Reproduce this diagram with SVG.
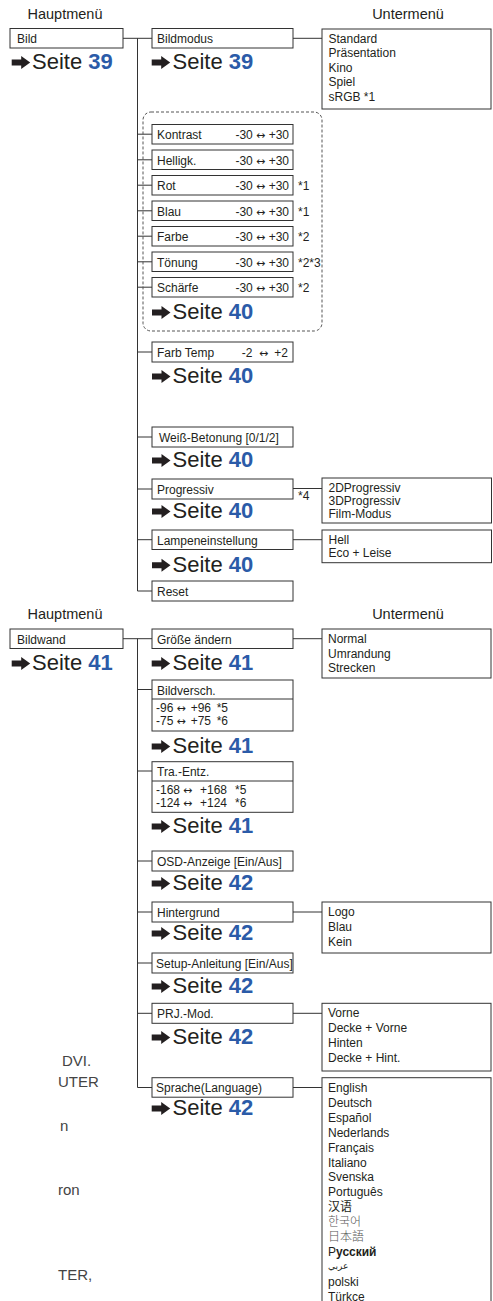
<svg xmlns="http://www.w3.org/2000/svg" width="493" height="1301" viewBox="0 0 493 1301">
<style>
text{font-family:"Liberation Sans",Arial,sans-serif;fill:#231f20}
.t{font-size:12px}
.h{font-size:14.5px}
.s{font-size:22px}
.n{font-weight:bold;fill:#2b5ba8}
.b{fill:#fff;stroke:#333;stroke-width:1}
.c{fill:none;stroke:#333;stroke-width:1}
.d{fill:none;stroke:#555;stroke-width:1;stroke-dasharray:3 2}
.f{font-size:15px;fill:#444;font-family:"Liberation Sans Narrow","Liberation Sans",sans-serif}
.cjk{font-family:"Noto Sans CJK SC","Noto Sans CJK KR","Noto Sans CJK JP",sans-serif}
.a{font-family:"DejaVu Sans",sans-serif;font-size:11px}
</style>
<defs>
<path id="arr" d="M0,-3 H9.5 V-6.5 L18.5,0 L9.5,6.5 V3 H0 Z" fill="#231f20"/>
</defs>

<g id="headers">
<text class="h" x="65" y="19" text-anchor="middle">Hauptmenü</text>
<text class="h" x="408" y="19" text-anchor="middle">Untermenü</text>
<text class="h" x="65" y="619" text-anchor="middle">Hauptmenü</text>
<text class="h" x="408" y="619" text-anchor="middle">Untermenü</text>
</g>

<g id="connectors">
<path class="c" d="M123,38.3 H152 M137.5,38.3 V591 H152 M293,38.3 H322"/>
<path class="c" d="M137.5,134.2 H152 M137.5,159.8 H152 M137.5,185.2 H152 M137.5,210.8 H152 M137.5,236.2 H152 M137.5,261.8 H152 M137.5,287.2 H152"/>
<path class="c" d="M137.5,352 H152 M137.5,437 H152 M137.5,489 H152 M293,488.5 H322 M137.5,539.7 H152 M293,539.7 H322"/>
<path class="c" d="M123,638.7 H152 M137.5,638.7 V1087.5 H152 M293,638.7 H322"/>
<path class="c" d="M137.5,689.5 H152 M137.5,771 H152 M137.5,861 H152 M137.5,912 H152 M293,912 H322 M137.5,963 H152 M137.5,1013.3 H152 M293,1013.3 H322 M293,1087.5 H322"/>
</g>

<g id="bild">
<rect class="b" x="10" y="28.5" width="113" height="19.5"/>
<text class="t" x="17" y="43">Bild</text>
<use href="#arr" x="11.7" y="62.5"/>
<text class="s" x="32" y="69">Seite <tspan class="n">39</tspan></text>
</g>

<g id="bildmodus">
<rect class="b" x="152" y="28.5" width="141" height="19.5"/>
<text class="t" x="157" y="43">Bildmodus</text>
<use href="#arr" x="151.7" y="62.5"/>
<text class="s" x="172.5" y="69">Seite <tspan class="n">39</tspan></text>
</g>

<g id="bildmodus-sub">
<rect class="b" x="322" y="29" width="169" height="80"/>
<text class="t" x="328.5" y="42.7">Standard</text>
<text class="t" x="328.5" y="57.2">Präsentation</text>
<text class="t" x="328.5" y="71.7">Kino</text>
<text class="t" x="328.5" y="86.2">Spiel</text>
<text class="t" x="328.5" y="100.7">sRGB *1</text>
</g>

<g id="bildeinstellungen">
<rect class="d" x="143" y="112" width="179" height="219" rx="8"/>
<use href="#arr" x="152" y="312.5"/>
<text class="s" x="172.5" y="319">Seite <tspan class="n">40</tspan></text>
</g>

<g id="kontrast">
<rect class="b" x="152" y="124.5" width="141" height="19.5"/>
<text class="t" x="157" y="139">Kontrast</text>
<text class="t" x="289" y="139" text-anchor="end">-30 <tspan class="a">↔</tspan> +30</text>
</g>
<g id="helligk">
<rect class="b" x="152" y="150" width="141" height="19.5"/>
<text class="t" x="157" y="164.5">Helligk.</text>
<text class="t" x="289" y="164.5" text-anchor="end">-30 <tspan class="a">↔</tspan> +30</text>
</g>
<g id="rot">
<rect class="b" x="152" y="175.5" width="141" height="19.5"/>
<text class="t" x="157" y="190">Rot</text>
<text class="t" x="289" y="190" text-anchor="end">-30 <tspan class="a">↔</tspan> +30</text>
<text class="t" x="298" y="190">*1</text>
</g>
<g id="blau">
<rect class="b" x="152" y="201" width="141" height="19.5"/>
<text class="t" x="157" y="215.5">Blau</text>
<text class="t" x="289" y="215.5" text-anchor="end">-30 <tspan class="a">↔</tspan> +30</text>
<text class="t" x="298" y="215.5">*1</text>
</g>
<g id="farbe">
<rect class="b" x="152" y="226.5" width="141" height="19.5"/>
<text class="t" x="157" y="241">Farbe</text>
<text class="t" x="289" y="241" text-anchor="end">-30 <tspan class="a">↔</tspan> +30</text>
<text class="t" x="298" y="241">*2</text>
</g>
<g id="toenung">
<rect class="b" x="152" y="252" width="141" height="19.5"/>
<text class="t" x="157" y="266.5">Tönung</text>
<text class="t" x="289" y="266.5" text-anchor="end">-30 <tspan class="a">↔</tspan> +30</text>
<text class="t" x="298" y="266.5">*2*3</text>
</g>
<g id="schaerfe">
<rect class="b" x="152" y="277.5" width="141" height="19.5"/>
<text class="t" x="157" y="292">Schärfe</text>
<text class="t" x="289" y="292" text-anchor="end">-30 <tspan class="a">↔</tspan> +30</text>
<text class="t" x="298" y="292">*2</text>
</g>

<g id="farbtemp">
<rect class="b" x="152" y="342" width="141" height="20"/>
<text class="t" x="157" y="356.5">Farb Temp</text>
<text class="t" y="356.5"><tspan x="241.7">-2</tspan><tspan class="a" x="259">↔</tspan><tspan x="274.3">+2</tspan></text>
<use href="#arr" x="152" y="376.5"/>
<text class="s" x="172.5" y="383">Seite <tspan class="n">40</tspan></text>
</g>

<g id="weiss">
<rect class="b" x="152" y="427" width="141" height="20"/>
<text class="t" x="159" y="441.5">Weiß-Betonung [0/1/2]</text>
<use href="#arr" x="152" y="460.5"/>
<text class="s" x="172.5" y="467">Seite <tspan class="n">40</tspan></text>
</g>

<g id="progressiv">
<rect class="b" x="152" y="479" width="141" height="20"/>
<text class="t" x="157" y="493.5">Progressiv</text>
<text class="t" x="298" y="500">*4</text>
<use href="#arr" x="152" y="511.5"/>
<text class="s" x="172.5" y="518">Seite <tspan class="n">40</tspan></text>
</g>
<g id="progressiv-sub">
<rect class="b" x="322" y="478" width="169.5" height="45"/>
<text class="t" x="328.5" y="491.7">2DProgressiv</text>
<text class="t" x="328.5" y="505">3DProgressiv</text>
<text class="t" x="328.5" y="518.3">Film-Modus</text>
</g>

<g id="lampe">
<rect class="b" x="152" y="530" width="141" height="19.5"/>
<text class="t" x="157" y="544.5">Lampeneinstellung</text>
<use href="#arr" x="152" y="565.2"/>
<text class="s" x="172.5" y="571.7">Seite <tspan class="n">40</tspan></text>
</g>
<g id="lampe-sub">
<rect class="b" x="322" y="530" width="169.5" height="32.7"/>
<text class="t" x="328.5" y="544">Hell</text>
<text class="t" x="328.5" y="556.7">Eco + Leise</text>
</g>

<g id="reset">
<rect class="b" x="152" y="581" width="141" height="20"/>
<text class="t" x="157" y="595.5">Reset</text>
</g>

<g id="bildwand">
<rect class="b" x="10" y="629" width="113" height="19.5"/>
<text class="t" x="17" y="643.5">Bildwand</text>
<use href="#arr" x="11.7" y="663.5"/>
<text class="s" x="32" y="670">Seite <tspan class="n">41</tspan></text>
</g>

<g id="groesse">
<rect class="b" x="152" y="629" width="141" height="19.5"/>
<text class="t" x="157" y="643.5">Größe ändern</text>
<use href="#arr" x="151.7" y="663.5"/>
<text class="s" x="172.5" y="670">Seite <tspan class="n">41</tspan></text>
</g>
<g id="groesse-sub">
<rect class="b" x="322" y="629" width="169" height="49"/>
<text class="t" x="328" y="643">Normal</text>
<text class="t" x="328" y="657.5">Umrandung</text>
<text class="t" x="328" y="672">Strecken</text>
</g>

<g id="bildversch">
<rect class="b" x="152" y="680" width="141" height="51"/>
<path class="c" d="M152,699 H293"/>
<text class="t" x="157" y="694.5">Bildversch.</text>
<text class="t" y="711.7"><tspan x="156">-96</tspan><tspan class="a" x="176.5">↔</tspan><tspan x="190.7">+96</tspan><tspan x="216.7">*5</tspan></text>
<text class="t" y="725"><tspan x="156">-75</tspan><tspan class="a" x="176.5">↔</tspan><tspan x="190.7">+75</tspan><tspan x="216.7">*6</tspan></text>
<use href="#arr" x="151.7" y="746.5"/>
<text class="s" x="172.5" y="753">Seite <tspan class="n">41</tspan></text>
</g>

<g id="traentz">
<rect class="b" x="152" y="761.7" width="141" height="50.6"/>
<path class="c" d="M152,781 H293"/>
<text class="t" x="157" y="776">Tra.-Entz.</text>
<text class="t" y="794.3"><tspan x="156">-168</tspan><tspan class="a" x="183">↔</tspan><tspan x="200">+168</tspan><tspan x="235">*5</tspan></text>
<text class="t" y="807.3"><tspan x="156">-124</tspan><tspan class="a" x="183">↔</tspan><tspan x="200">+124</tspan><tspan x="235">*6</tspan></text>
<use href="#arr" x="151.7" y="826.5"/>
<text class="s" x="172.5" y="833">Seite <tspan class="n">41</tspan></text>
</g>

<g id="osd">
<rect class="b" x="152" y="851" width="141" height="20"/>
<text class="t" x="157" y="865.5">OSD-Anzeige [Ein/Aus]</text>
<use href="#arr" x="151.7" y="883.5"/>
<text class="s" x="172.5" y="890">Seite <tspan class="n">42</tspan></text>
</g>

<g id="hintergrund">
<rect class="b" x="152" y="902" width="141" height="20"/>
<text class="t" x="157" y="916.5">Hintergrund</text>
<use href="#arr" x="151.7" y="933.5"/>
<text class="s" x="172.5" y="940">Seite <tspan class="n">42</tspan></text>
</g>
<g id="hintergrund-sub">
<rect class="b" x="322" y="902" width="169" height="51"/>
<text class="t" x="328" y="915.7">Logo</text>
<text class="t" x="328" y="930.7">Blau</text>
<text class="t" x="328" y="945.5">Kein</text>
</g>

<g id="setup">
<rect class="b" x="152" y="953" width="141" height="20"/>
<text class="t" x="156" y="967.5">Setup-Anleitung [Ein/Aus]</text>
<use href="#arr" x="151.7" y="986.5"/>
<text class="s" x="172.5" y="993">Seite <tspan class="n">42</tspan></text>
</g>

<g id="prjmod">
<rect class="b" x="152" y="1003.3" width="141" height="20"/>
<text class="t" x="157" y="1017.8">PRJ.-Mod.</text>
<use href="#arr" x="151.7" y="1037.5"/>
<text class="s" x="172.5" y="1044">Seite <tspan class="n">42</tspan></text>
</g>
<g id="prjmod-sub">
<rect class="b" x="322" y="1003.3" width="169" height="67.7"/>
<text class="t" x="328" y="1017">Vorne</text>
<text class="t" x="328" y="1032">Decke + Vorne</text>
<text class="t" x="328" y="1047">Hinten</text>
<text class="t" x="328" y="1062">Decke + Hint.</text>
</g>

<g id="sprache">
<rect class="b" x="152" y="1077.7" width="141" height="19.5"/>
<text class="t" x="156" y="1092">Sprache(Language)</text>
<use href="#arr" x="151.7" y="1108.5"/>
<text class="s" x="172.5" y="1115">Seite <tspan class="n">42</tspan></text>
</g>
<g id="sprache-sub">
<rect class="b" x="322" y="1077.7" width="169" height="240"/>
<text class="t" x="328" y="1092">English</text>
<text class="t" x="328" y="1106.9">Deutsch</text>
<text class="t" x="328" y="1121.8">Español</text>
<text class="t" x="328" y="1136.7">Nederlands</text>
<text class="t" x="328" y="1151.6">Français</text>
<text class="t" x="328" y="1166.5">Italiano</text>
<text class="t" x="328" y="1181.4">Svenska</text>
<text class="t" x="328" y="1196.3">Português</text>
<text class="t cjk" x="328" y="1211.2" style="font-weight:400">汉语</text>
<text class="t cjk" x="328" y="1226.1" style="fill:#555;font-weight:300">한국어</text>
<text class="t cjk" x="328" y="1241" style="fill:#555;font-weight:300">日本語</text>
<text class="t" x="328" y="1255.9">Р<tspan font-weight="bold">усский</tspan></text>
<text x="328" y="1269" style="font-size:9px;font-family:'DejaVu Sans',sans-serif">عربي</text>
<text class="t" x="328" y="1285.7">polski</text>
<text class="t" x="328" y="1300.6">Türkce</text>
</g>

<g id="fragments">
<text class="f" x="62" y="1066">DVI.</text>
<text class="f" x="58" y="1087">UTER</text>
<text class="f" x="60" y="1131">n</text>
<text class="f" x="58" y="1195">ron</text>
<text class="f" x="58" y="1280">TER,</text>
</g>
</svg>
